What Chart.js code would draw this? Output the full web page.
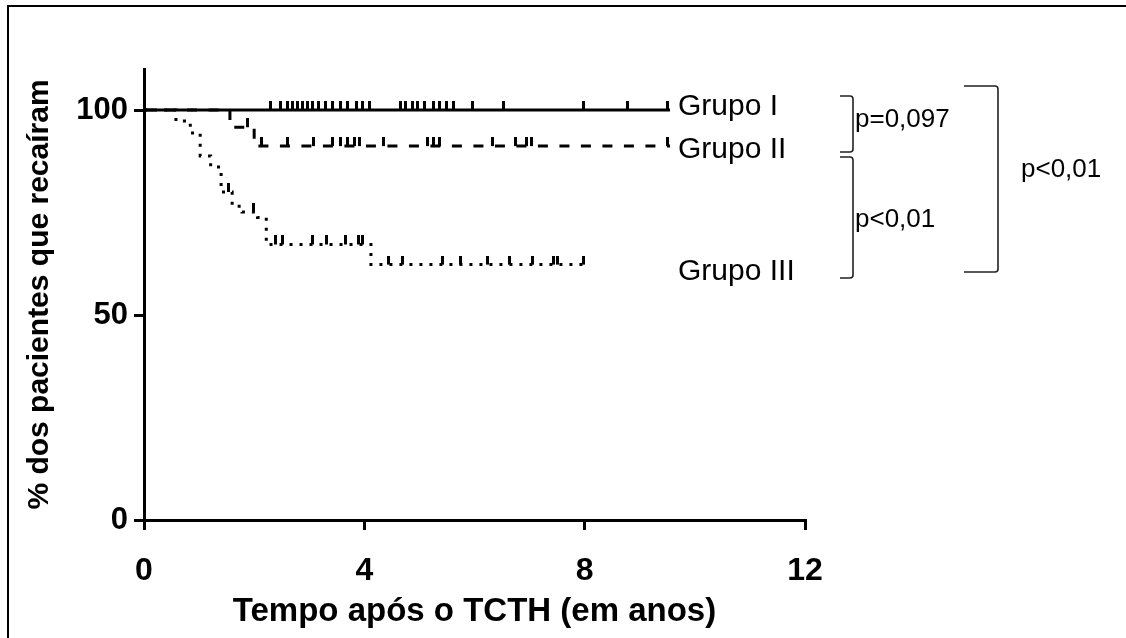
<!DOCTYPE html>
<html lang="pt">
<head>
<meta charset="utf-8">
<title>Recaída após TCTH</title>
<script src="https://cdn.jsdelivr.net/npm/chart.js@4.4.1/dist/chart.umd.min.js"></script>
<style>
  html, body { margin: 0; padding: 0; background: #fff; }
  canvas { display: block; }
</style>
</head>
<body>
<canvas id="curvaKM" width="1126" height="638"></canvas>
<script>
// === Curvas de Kaplan-Meier (tempo em anos, % acumulada) ===
const grupo1Tempo = [0, 9.55];
const grupo1Valor = [100, 100];
const grupo1Censura = [2.29, 2.47, 2.60, 2.69, 2.78, 2.87, 2.96, 3.05, 3.16, 3.29, 3.43, 3.56, 3.70,
  3.85, 3.96, 4.10, 4.65, 4.74, 4.87, 4.97, 5.10, 5.25, 5.37, 5.50, 5.61, 5.97, 6.52, 7.97, 8.77, 9.51];

const grupo2Tempo = [0, 1.56, 2.00, 9.55];
const grupo2Valor = [100, 95.8, 91.2, 91.2];
const grupo2Censura = [1.87, 2.14, 2.60, 3.07, 3.43, 3.56, 3.69, 3.83, 3.92, 4.34, 5.14, 5.25, 5.37,
  6.32, 6.74, 6.95, 7.04, 9.51];

const grupo3Tempo = [0, 0.58, 0.84, 1.02, 1.21, 1.40, 1.60, 1.78, 2.06, 2.22, 4.12, 7.97];
const grupo3Valor = [100, 97.3, 94.4, 88.8, 86.1, 80.0, 76.5, 75.1, 73.8, 67.2, 62.3, 62.3];
const grupo3Censura = [1.53, 1.98, 2.38, 2.52, 3.05, 3.32, 3.65, 3.89, 3.96, 4.43, 4.70, 5.41, 5.74,
  6.23, 6.64, 7.06, 7.43, 7.50, 7.97];

const xTicks = [0, 4, 8, 12];
const yTicks = [0, 50, 100];
const rotulosGrupo = ['Grupo I', 'Grupo II', 'Grupo III'];
const rotulosP = ['p=0,097', 'p<0,01', 'p<0,01'];

// valor da curva em degrau num instante t
function valorEm(tempos, valores, t) {
  let v = valores[0];
  for (let i = 0; i < tempos.length; i++) {
    if (tempos[i] <= t) v = valores[i];
  }
  return v;
}

function pontos(tempos, valores) {
  return tempos.map((t, i) => ({ x: t, y: valores[i] }));
}

function pontosCensura(censuras, tempos, valores) {
  return censuras.map(t => ({ x: t, y: valorEm(tempos, valores, t) }));
}

// marca de censura: traço vertical acima da curva
function marcaCensura() {
  const c = document.createElement('canvas');
  c.width = 3;
  c.height = 18;
  const g = c.getContext('2d');
  g.fillStyle = '#000';
  g.fillRect(0, 0, 3, 9);
  return c;
}

const marca = marcaCensura();

function curva(tempos, valores, dash) {
  return {
    data: pontos(tempos, valores),
    showLine: true,
    stepped: 'before',
    borderColor: '#000',
    borderWidth: 3,
    borderDash: dash,
    borderCapStyle: 'butt',
    pointRadius: 0,
    fill: false
  };
}

function censura(censuras, tempos, valores) {
  return {
    data: pontosCensura(censuras, tempos, valores),
    showLine: false,
    pointStyle: marca,
    pointRadius: 5,
    pointHoverRadius: 5
  };
}

// colchete com cantos levemente arredondados
function colchete(ctx, xIn, xOut, yTop, yBot) {
  ctx.beginPath();
  ctx.moveTo(xIn, yTop);
  ctx.lineTo(xOut - 3, yTop);
  ctx.quadraticCurveTo(xOut, yTop, xOut, yTop + 3);
  ctx.lineTo(xOut, yBot - 3);
  ctx.quadraticCurveTo(xOut, yBot, xOut - 3, yBot);
  ctx.lineTo(xIn, yBot);
  ctx.stroke();
}

// === rótulos dos grupos, colchetes e valores de p ===
const anotacoes = {
  id: 'anotacoes',
  afterDraw(chart) {
    const ctx = chart.ctx;
    ctx.save();

    // moldura
    ctx.strokeStyle = '#000';
    ctx.lineWidth = 2;
    ctx.beginPath();
    ctx.moveTo(8, 638);
    ctx.lineTo(8, 6);
    ctx.lineTo(1126, 6);
    ctx.stroke();

    ctx.fillStyle = '#000';
    ctx.textAlign = 'left';
    ctx.textBaseline = 'alphabetic';
    ctx.font = '30px "Liberation Sans", Arial, sans-serif';
    ctx.fillText(rotulosGrupo[0], 678, 115);
    ctx.fillText(rotulosGrupo[1], 678, 158);
    ctx.fillText(rotulosGrupo[2], 678, 280);

    ctx.strokeStyle = '#222';
    ctx.lineWidth = 1.6;
    colchete(ctx, 840, 853, 96, 152);
    colchete(ctx, 840, 853, 157, 278);
    colchete(ctx, 964, 998, 86, 272);

    ctx.font = '26px "Liberation Sans", Arial, sans-serif';
    ctx.fillText(rotulosP[0], 855, 127);
    ctx.fillText(rotulosP[1], 855, 227);
    ctx.fillText(rotulosP[2], 1021, 177);

    ctx.restore();
  }
};

Chart.defaults.font.family = '"Liberation Sans", Arial, sans-serif';
Chart.defaults.color = '#000';

const eixoGrid = {
  display: true,
  drawOnChartArea: false,
  drawTicks: true,
  tickLength: 10,
  color: '#000',
  lineWidth: 3
};

new Chart(document.getElementById('curvaKM'), {
  type: 'scatter',
  data: {
    datasets: [
      curva(grupo1Tempo, grupo1Valor, []),
      curva(grupo2Tempo, grupo2Valor, [10, 11.5]),
      curva(grupo3Tempo, grupo3Valor, [3, 7]),
      censura(grupo1Censura, grupo1Tempo, grupo1Valor),
      censura(grupo2Censura, grupo2Tempo, grupo2Valor),
      censura(grupo3Censura, grupo3Tempo, grupo3Valor)
    ]
  },
  options: {
    responsive: false,
    animation: false,
    events: [],
    layout: { padding: { top: 69, right: 321, bottom: 0, left: 0 } },
    plugins: {
      legend: { display: false },
      tooltip: { enabled: false }
    },
    scales: {
      x: {
        type: 'linear',
        min: 0,
        max: 12,
        afterBuildTicks(scale) { scale.ticks = xTicks.map(v => ({ value: v })); },
        ticks: { padding: 22, color: '#000', font: { size: 32, weight: 'bold' } },
        grid: eixoGrid,
        border: { display: true, color: '#000', width: 3 },
        title: {
          display: true,
          text: 'Tempo após o TCTH (em anos)',
          color: '#000',
          font: { size: 33, weight: 'bold' },
          padding: { top: 0, bottom: 6 }
        },
        afterFit(scale) { scale.height = 118; }
      },
      y: {
        type: 'linear',
        min: 0,
        max: 110,
        afterBuildTicks(scale) { scale.ticks = yTicks.map(v => ({ value: v })); },
        ticks: { padding: 6, color: '#000', font: { size: 31, weight: 'bold' } },
        grid: eixoGrid,
        border: { display: true, color: '#000', width: 3 },
        title: {
          display: true,
          text: '% dos pacientes que recaíram',
          color: '#000',
          font: { size: 30, weight: 'bold' },
          padding: { top: 22, bottom: 0 }
        },
        afterFit(scale) { scale.width = 144; }
      }
    }
  },
  plugins: [anotacoes]
});
</script>
</body>
</html>
